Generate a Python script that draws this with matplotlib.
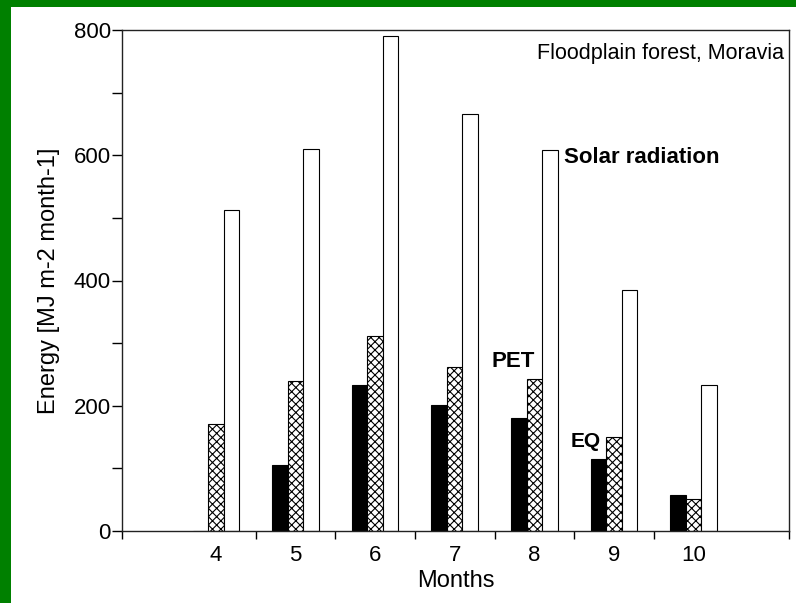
import matplotlib
matplotlib.use("Agg")
import matplotlib.pyplot as plt
from matplotlib.patches import Rectangle
import numpy as np

plt.rcParams['font.family'] = ['Liberation Sans', 'DejaVu Sans']
plt.rcParams['hatch.linewidth'] = 0.8

months = [4, 5, 6, 7, 8, 9, 10]
eq = [0, 106, 233, 201, 181, 115, 57]
pet = [171, 240, 311, 262, 243, 150, 51]
solar = [513, 610, 791, 666, 609, 385, 233]
month_labels = ["4", "5", "6", "7", "8", "9", "10"]

fig = plt.figure(figsize=(7.96, 6.03), dpi=100)
fig.patch.set_facecolor('#008000')
fig.add_artist(Rectangle((11/796, 0), 1, 1 - 7/603, transform=fig.transFigure,
                         facecolor='white', edgecolor='none', zorder=-10))
ax = fig.add_axes([122/796, 1 - 531/603, (789 - 122)/796, (531 - 30)/603])

x = np.array(months, dtype=float)
w = 0.195
ax.bar(x - w, eq, width=w, color='black', edgecolor='black', linewidth=0.8)
ax.bar(x, pet, width=w, color='white', edgecolor='black', hatch='xxxx', linewidth=0.8)
ax.bar(x + w, solar, width=w, color='white', edgecolor='black', linewidth=0.8)

ax.set_xlim(2.82, 11.2)
ax.set_ylim(0, 800)
ax.set_xticks(months)
ax.set_xticklabels(month_labels, fontsize=16)
ax.tick_params(axis='x', which='major', length=0, pad=10)
ax.set_xticks([2.82, 4.5, 5.5, 6.5, 7.5, 8.5, 9.5, 11.2], minor=True)
ax.tick_params(axis='x', which='minor', length=6, width=1, direction='out')

ax.set_yticks([0, 200, 400, 600, 800])
ax.set_yticklabels(["0", "200", "400", "600", "800"], fontsize=16)
ax.set_yticks([100, 300, 500, 700], minor=True)
ax.tick_params(axis='y', which='both', length=7, width=1, direction='out', pad=1)

for s in ax.spines.values():
    s.set_linewidth(1.0)
    s.set_color('#222222')

ax.set_xlabel("Months", fontsize=17, labelpad=3)
ax.set_ylabel("Energy [MJ m-2 month-1]", fontsize=17, labelpad=10)

ax.text(0.992, 0.975, "Floodplain forest, Moravia", transform=ax.transAxes,
        ha='right', va='top', fontsize=15.5)
ax.text(8.37, 597, "Solar radiation", fontsize=16, fontweight='bold',
        ha='left', va='center')
ax.text(7.73, 270, "PET", fontsize=16, fontweight='bold', ha='center', va='center')
ax.text(8.65, 143, "EQ", fontsize=15, fontweight='bold', ha='center', va='center')

fig.savefig("out.png", dpi=100)
